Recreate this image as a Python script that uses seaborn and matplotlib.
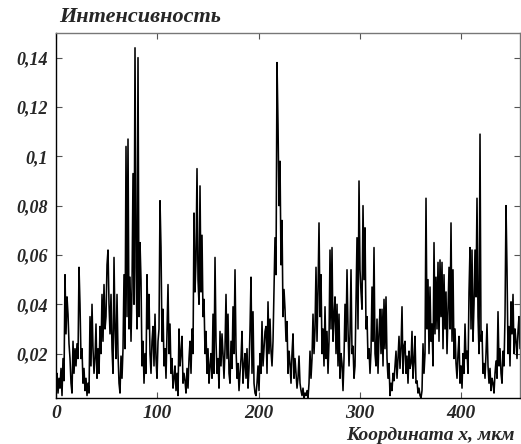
import numpy as np
import pandas as pd
import matplotlib
matplotlib.use('Agg')
import matplotlib.pyplot as plt
import seaborn as sns

# intensity readings, in units of 1e-3, one sample per ~1 um
part_a = [8, 12, 4, 10, 6, 14, 3, 18, 9, 52,
          28, 43, 36, 24, 18, 8, 4, 25, 12, 22,
          15, 24, 18, 55, 40, 18, 22, 8, 14, 5,
          10, 3, 8, 4, 35, 15, 40, 22, 12, 18,
          32, 10, 22, 12, 31, 20, 44, 25, 48, 30,
          35, 56, 62, 40, 28, 44, 22, 12, 59, 30,
          18, 44, 20, 8, 4, 19, 10, 22, 52, 22,
          104, 35, 107, 30, 51, 25, 47, 93, 40, 144,
          55, 30, 140, 35, 65, 50, 15, 25, 8, 20,
          12, 52, 30, 44, 20, 12, 25, 31, 15, 36]
part_b = [18, 10, 25, 30, 82, 63, 25, 38, 15, 22,
          10, 30, 48, 20, 32, 12, 18, 6, 10, 15,
          5, 12, 3, 30, 15, 20, 27, 8, 12, 9,
          4, 14, 6, 18, 25, 12, 30, 20, 77, 45,
          58, 95, 50, 40, 88, 45, 68, 35, 42, 20,
          29, 12, 22, 8, 15, 20, 10, 36, 12, 59,
          25, 12, 18, 6, 29, 15, 28, 20, 10, 22,
          44, 18, 36, 12, 8, 25, 14, 39, 20, 54,
          22, 10, 16, 5, 12, 18, 29, 8, 15, 20,
          10, 22, 6, 14, 30, 51, 12, 37, 8, 4]
part_c = [3, 8, 15, 5, 20, 12, 33, 15, 22, 29,
          31, 12, 41, 20, 34, 21, 15, 25, 46, 67,
          52, 138, 113, 80, 98, 56, 74, 35, 46, 38,
          25, 33, 12, 21, 16, 8, 20, 28, 10, 18,
          12, 6, 10, 19, 8, 5, 3, 6, 2, 4,
          3, 5, 2, 8, 21, 10, 18, 36, 20, 30,
          55, 25, 45, 73, 35, 52, 20, 30, 15, 39,
          18, 29, 12, 25, 62, 30, 63, 25, 35, 43,
          20, 40, 15, 36, 10, 20, 16, 5, 18, 40,
          25, 54, 30, 15, 28, 54, 20, 23, 10, 15]
part_d = [40, 67, 30, 90, 54, 45, 38, 80, 50, 71,
          30, 35, 18, 22, 12, 21, 47, 25, 63, 20,
          15, 34, 12, 28, 38, 20, 38, 15, 42, 22,
          43, 18, 10, 16, 3, 8, 5, 12, 9, 15,
          21, 10, 18, 27, 14, 22, 39, 12, 23, 25,
          12, 19, 8, 21, 14, 16, 29, 10, 17, 27,
          8, 9, 4, 6, 3, 2, 5, 24, 12, 20,
          83, 30, 50, 20, 47, 25, 32, 15, 65, 28,
          51, 30, 57, 25, 58, 35, 57, 22, 52, 30,
          45, 20, 38, 55, 30, 73, 25, 54, 18, 30]
part_e = [16, 10, 20, 27, 8, 15, 6, 20, 12, 32,
          18, 21, 12, 45, 63, 30, 62, 25, 40, 62,
          43, 83, 35, 20, 109, 25, 29, 12, 16, 10,
          20, 32, 15, 8, 14, 5, 10, 8, 4, 12,
          17, 10, 37, 15, 22, 12, 8, 21, 15, 35,
          80, 54, 20, 31, 15, 41, 28, 44, 20, 30,
          25, 18, 29, 35, 22]

x_ticks = [0, 100, 200, 300, 400]
y_ticks = [0.02, 0.04, 0.06, 0.08, 0.1, 0.12, 0.14]
y_labels = ['0,02', '0,04', '0,06', '0,08', '0,1', '0,12', '0,14']

intensity = np.array(part_a + part_b + part_c + part_d + part_e) / 1000.0
coord = np.linspace(0, 458, len(intensity))
df = pd.DataFrame({'x': coord, 'I': intensity})

sns.set_style('ticks')
plt.rcParams['font.family'] = ['Liberation Serif', 'DejaVu Serif']

fig = plt.figure(figsize=(5.21, 4.44), dpi=100)
ax = fig.add_axes([0.1075, 0.1036, 0.8906, 0.8221])
sns.lineplot(data=df, x='x', y='I', ax=ax, color='black', lw=1.15)

ax.set_xlim(0, 458)
ax.set_ylim(0.002, 0.150)
ax.set_xticks(x_ticks)
ax.set_xticklabels([str(t) for t in x_ticks])
ax.set_yticks(y_ticks)
ax.set_yticklabels(y_labels)
ax.set_xlabel('')
ax.set_ylabel('')
ax.tick_params(direction='in', top=True, right=True, length=4, width=0.8,
               color='#555555')
ax.tick_params(axis='x', pad=5)
ax.tick_params(axis='y', pad=6)
for lab in ax.get_xticklabels():
    lab.set_fontsize(14)
    lab.set_fontweight('bold')
    lab.set_fontstyle('italic')
for lab in ax.get_yticklabels():
    lab.set_fontsize(13)
    lab.set_fontweight('bold')
    lab.set_fontstyle('italic')
for side in ['left', 'bottom']:
    ax.spines[side].set_color('black')
    ax.spines[side].set_linewidth(1.0)
for side in ['top', 'right']:
    ax.spines[side].set_color('#777777')
    ax.spines[side].set_linewidth(1.0)

fig.text(0.113, 1 - 17 / 444, 'Интенсивность', fontsize=16, fontweight='bold',
         fontstyle='italic', ha='left', va='center')
fig.text(0.988, 1 - 440 / 444, 'Координата x, мкм', fontsize=14,
         fontweight='bold', fontstyle='italic', ha='right', va='baseline')

fig.savefig('out.png', dpi=100)
